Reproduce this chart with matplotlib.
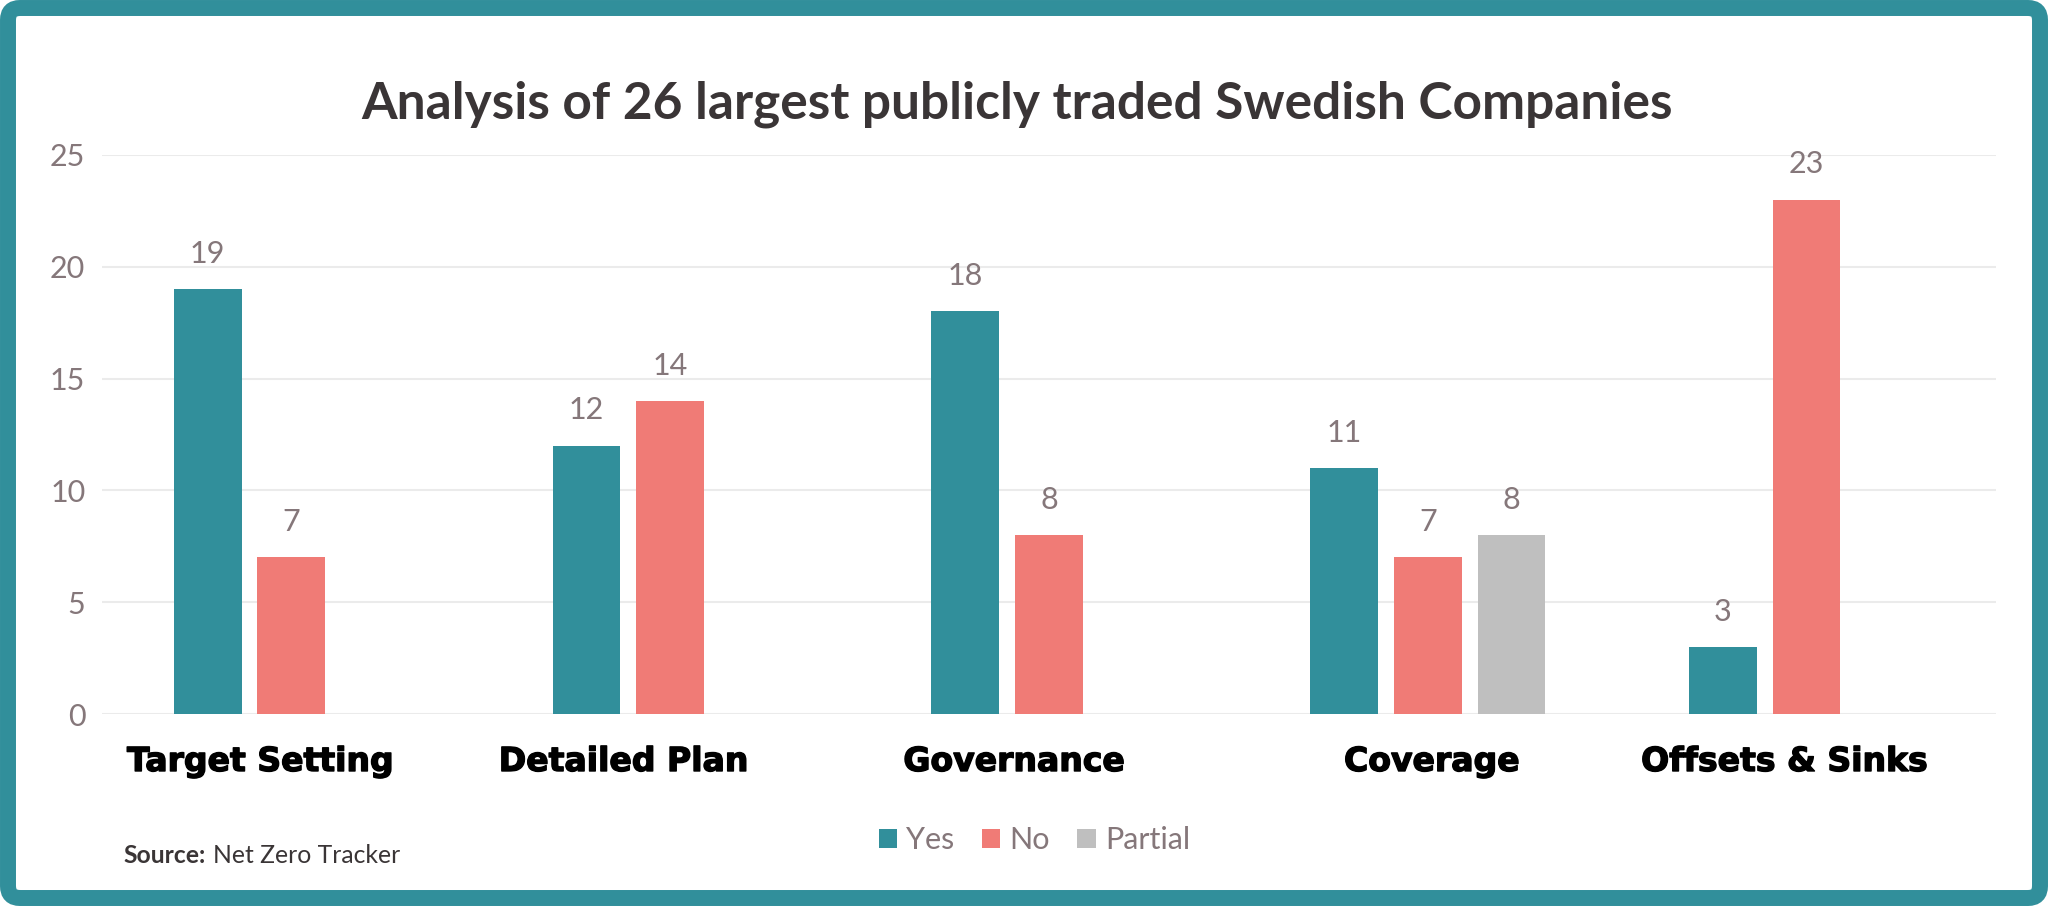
import matplotlib.pyplot as plt
import matplotlib.transforms as mtransforms
import matplotlib.patheffects as pe
import numpy as np
from matplotlib.patches import FancyBboxPatch

# data
categories = ["Target Setting", "Detailed Plan", "Governance", "Coverage", "Offsets & Sinks"]
series_names = ["Yes", "No", "Partial"]
yes_values = [19, 12, 18, 11, 3]
no_values = [7, 14, 8, 7, 23]
partial_values = [np.nan, np.nan, np.nan, 8, np.nan]

title = "Analysis of 26 largest publicly traded Swedish Companies"
source_text = "Net Zero Tracker"

# style
colors = ["#318F9B", "#F07B76", "#BFBFBF"]
border_color = "#318F9B"
label_gray = "#85777A"
title_color = "#3A3536"
label_shift = [-0.083, -0.124, -0.093, 0.01, -0.059]  # manual text box offsets

plt.rcParams["font.family"] = ["Lato", "DejaVu Sans"]

fig = plt.figure(figsize=(20.48, 9.06), dpi=100)
ax = fig.add_axes([0.0498, 0.2119, 0.9248, 0.6171])

bar_width = 0.179
step = 0.221
x = np.arange(len(categories))
all_values = [yes_values, no_values, partial_values]

for j, (vals, col, name) in enumerate(zip(all_values, colors, series_names)):
    pos = x + (j - 1) * step
    ax.bar(pos, vals, width=bar_width, color=col, label=name, zorder=3)
    for p, v in zip(pos, vals):
        if np.isnan(v):
            continue
        ax.annotate(str(v), (p, v), xytext=(0, 19), textcoords="offset points",
                    ha="center", va="baseline", fontsize=22, color=label_gray)

ax.set_xlim(-0.5, len(categories) - 0.5)
ax.set_ylim(0, 25)
ax.set_yticks(np.arange(0, 26, 5))
ax.yaxis.grid(True, color="#EBEBEB", linewidth=1.5, zorder=0)
ax.set_axisbelow(True)
for s in ax.spines.values():
    s.set_visible(False)
ax.tick_params(axis="y", length=0, pad=12, labelsize=22, labelcolor=label_gray)
ax.set_xticks([])

# category labels as separate text boxes
cat_trans = mtransforms.blended_transform_factory(ax.transData, fig.transFigure)
for i, cat in enumerate(categories):
    ax.text(i + label_shift[i], 1 - 771 / 906, cat, transform=cat_trans,
            ha="center", va="baseline", fontsize=23.8, fontweight="bold",
            family="DejaVu Sans", color="black",
            path_effects=[pe.withStroke(linewidth=1.0, foreground="black")])

fig.text(0.4965, 1 - 118 / 906, title, ha="center", va="baseline",
         fontsize=37, fontweight="bold", color=title_color)

src = fig.text(123 / 2048, 1 - 863 / 906, "Source:", ha="left", va="baseline",
               fontsize=17.8, fontweight="bold", color=title_color)
renderer = fig.canvas.get_renderer()
bb = src.get_window_extent(renderer)
fig.text((bb.x1 + 8) / 2048, 1 - 863 / 906, source_text, ha="left", va="baseline",
         fontsize=17.8, color=title_color)

leg = fig.legend(loc="center", bbox_to_anchor=(0.505, 1 - 840 / 906), ncol=3,
                 frameon=False, fontsize=22, handlelength=0.6, handleheight=0.6,
                 handletextpad=0.3, columnspacing=0.9, labelcolor=label_gray)

border = FancyBboxPatch((0.08, 0.08), 20.48 - 0.16, 9.06 - 0.16,
                        boxstyle="round,pad=0,rounding_size=0.12",
                        transform=fig.dpi_scale_trans, fill=False,
                        edgecolor=border_color, linewidth=11.5)
fig.patches.append(border)

fig.savefig("out.png", dpi=100, facecolor="white")
